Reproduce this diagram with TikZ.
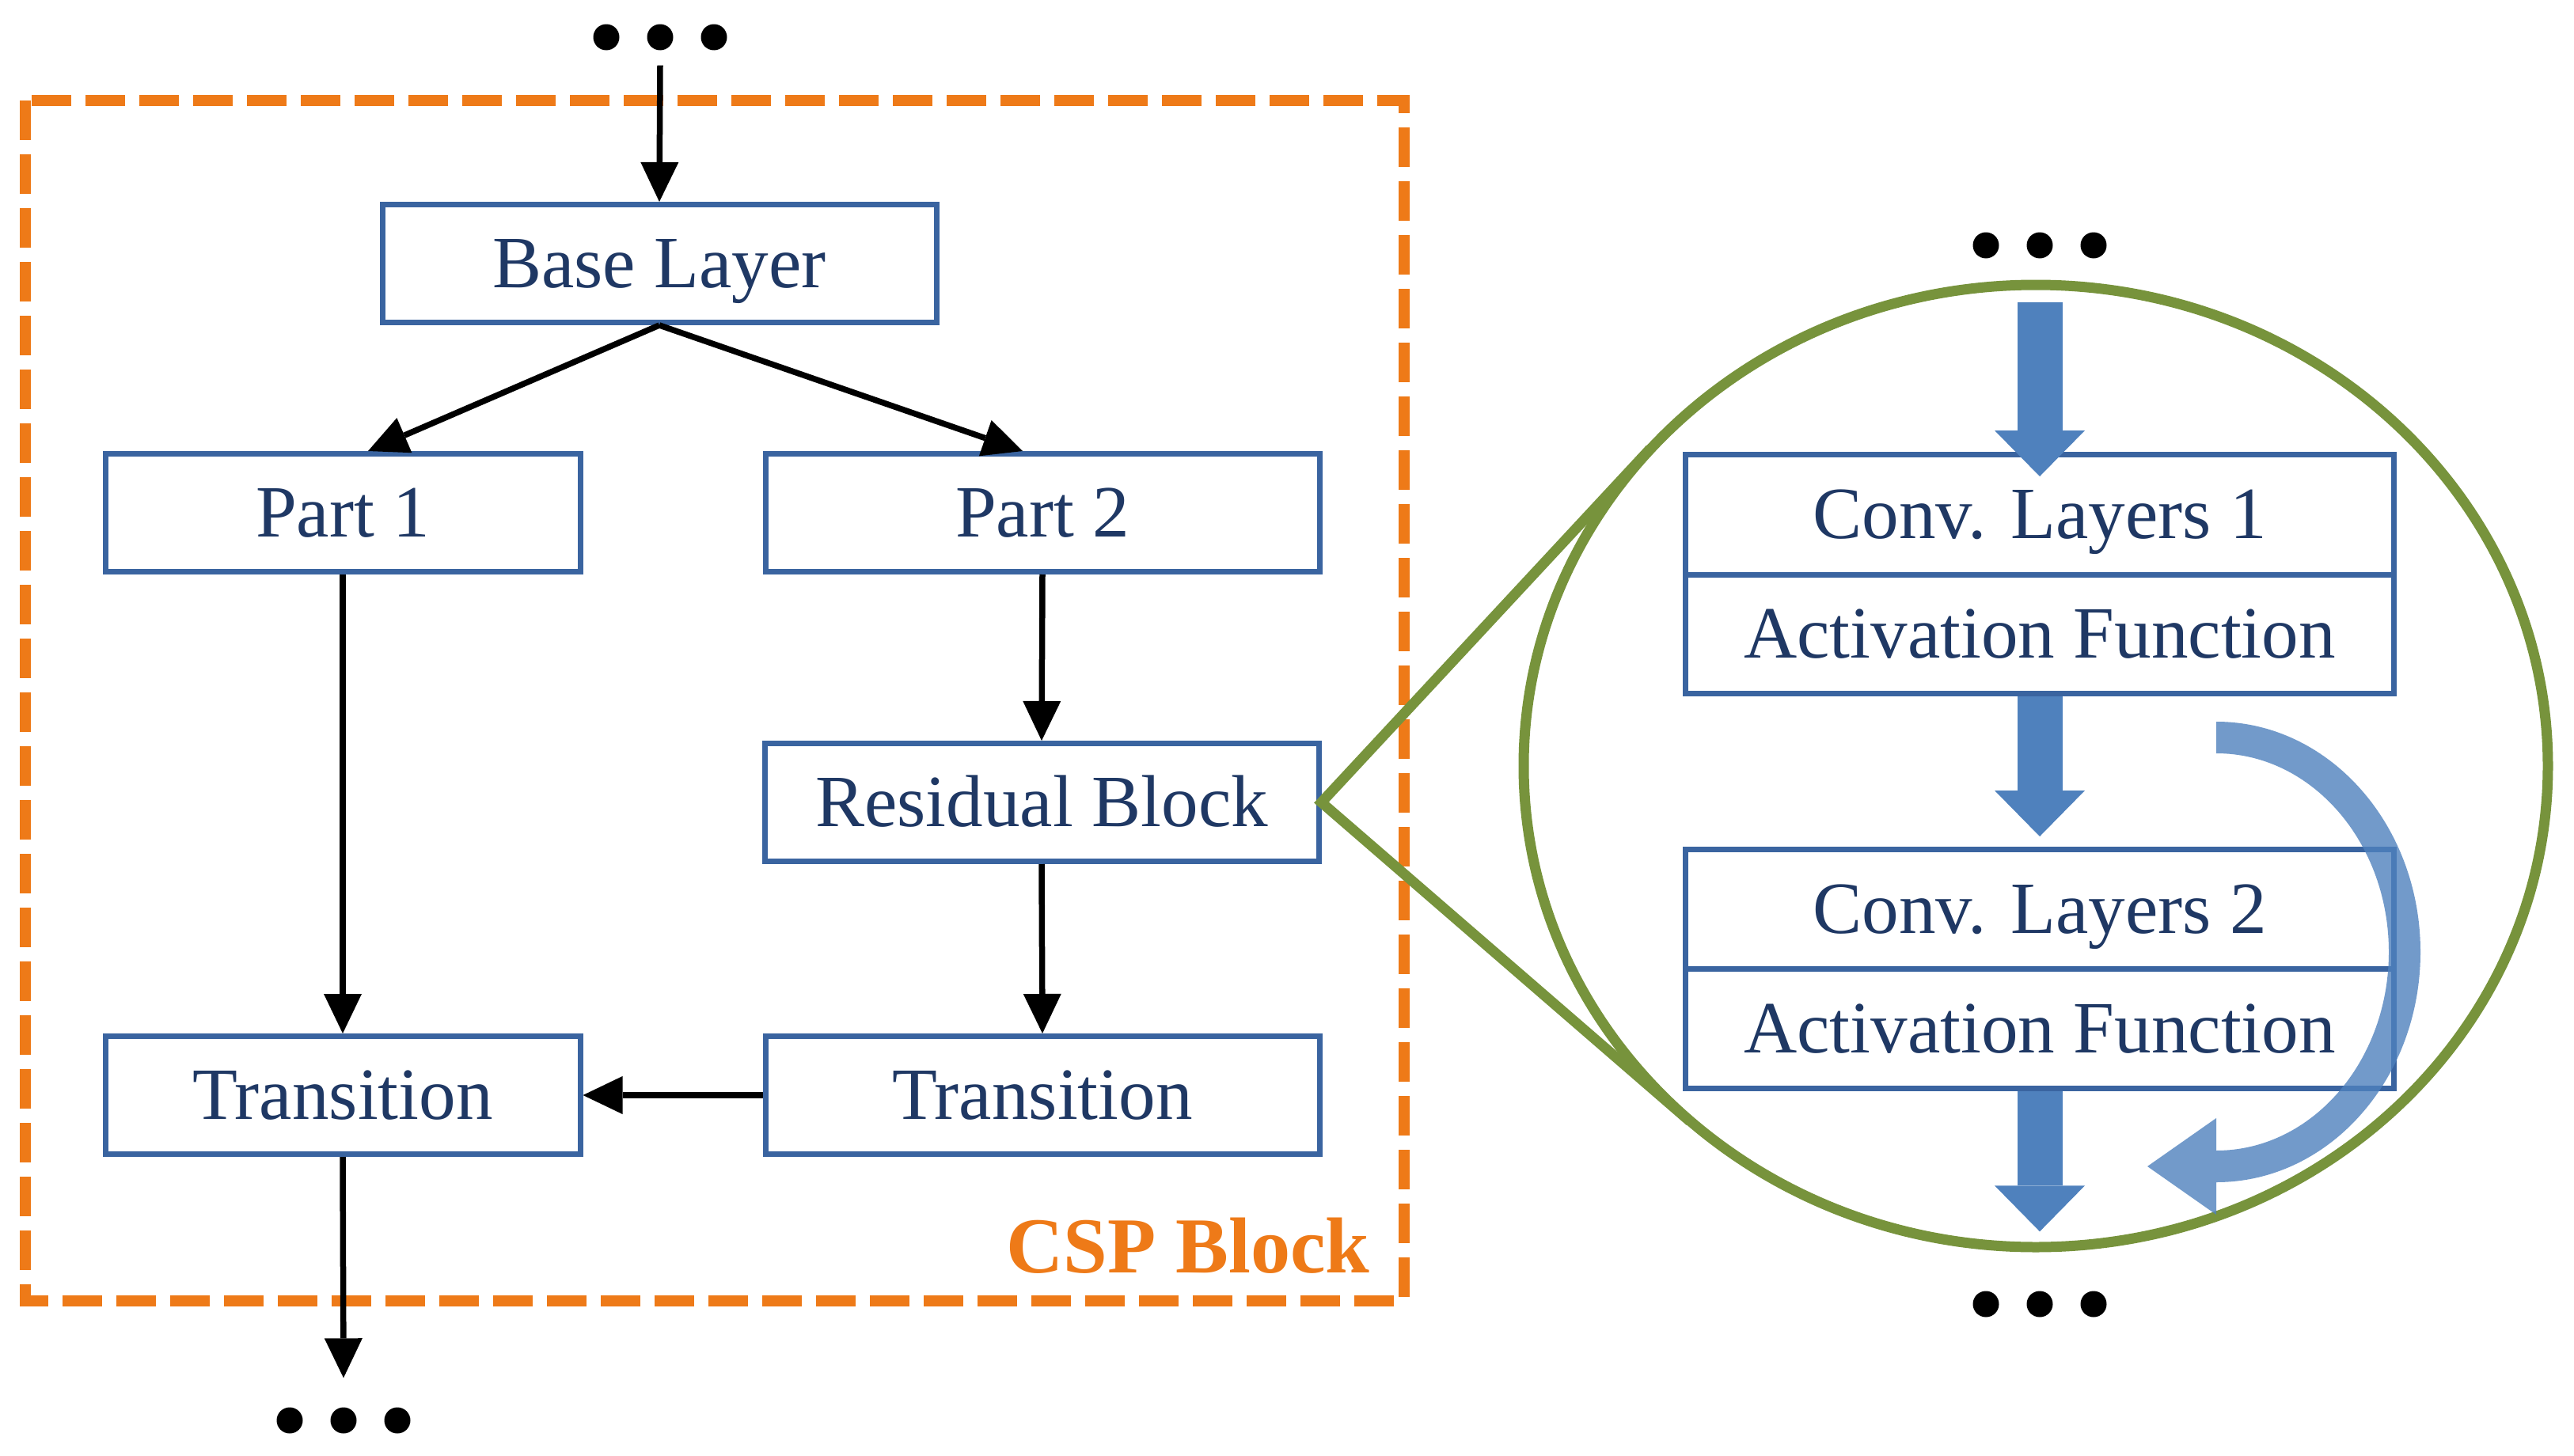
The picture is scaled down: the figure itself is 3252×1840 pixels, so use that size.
\documentclass[tikz,border=0pt]{standalone}
\usepackage{fontspec}
\setmainfont{Liberation Serif}
\usetikzlibrary{arrows.meta}
\definecolor{boxline}{RGB}{58,100,160}
\definecolor{boxtext}{RGB}{31,56,100}
\definecolor{cspor}{RGB}{238,122,24}
\definecolor{zgreen}{RGB}{119,147,60}
\definecolor{blockblue}{RGB}{79,129,189}
\begin{document}
\begin{tikzpicture}[x=0.1mm,y=-0.1mm,
  stage/.style={draw=boxline, line width=0.7mm, fill=white, inner sep=0pt, text=boxtext,
     font=\fontsize{26.5}{32}\selectfont, text height=17.5pt, text depth=0pt,
     minimum height=14.9mm},
  flow/.style={line width=0.75mm, -{Triangle[length=5mm,width=4.8mm,line width=0pt]}},
  blockarrow/.style={color=blockblue, line width=5.7mm, -{Triangle[length=5.8mm,width=11.4mm,line width=0pt]}},
  dotrow/.style={inner sep=0pt, minimum width=18mm, minimum height=4mm,
     path picture={\fill (path picture bounding box.center) circle[radius=1.65mm]
        ++(-6.8mm,0) circle[radius=1.65mm] ++(13.6mm,0) circle[radius=1.65mm];}},
  cspframe/.style={draw=cspor, line width=1.45mm, dash pattern=on 5mm off 1.8mm},
  zoomline/.style={draw=zgreen, line width=1.3mm},
]
\useasboundingbox (0,0) rectangle (3252,1840);

% CSP frame
\draw[cspframe] (32,127) rectangle (1774,1644);
\node[anchor=base east, text=cspor, font=\fontsize{28.5}{34}\selectfont\bfseries, inner sep=0pt] (csp) at (1731,1608) {CSP Block};

% left flow boxes
\node[stage, minimum width=70mm] (base) at (833,333) {Base Layer};
\node[stage, minimum width=60mm] (part1) at (433,648) {Part 1};
\node[stage, minimum width=70mm] (part2) at (1317,648) {Part 2};
\node[stage, minimum width=70mm] (res) at (1316,1014) {Residual Block};
\node[stage, minimum width=60mm] (trL) at (433,1384) {Transition};
\node[stage, minimum width=70mm] (trR) at (1317,1384) {Transition};

\node[dotrow] (dtop) at (834,47) {};
\node[dotrow] (dbot) at (434,1795) {};

\draw[flow] ([yshift=-1.5mm]dtop.south) -- (base.north);
\draw[flow] (base.south) -- ([xshift=3.2mm]part1.north);
\draw[flow] (base.south) -- ([xshift=-2.5mm]part2.north);
\draw[flow] (part1.south) -- (trL.north);
\draw[flow] (part2.south) -- (res.north);
\draw[flow] (res.south) -- (trR.north);
\draw[flow] (trR.west) -- (trL.east);
\draw[flow] (trL.south) -- ([yshift=3.3mm]dbot.north);

% zoom ellipse and tangents
\coordinate (tu) at (2085,567);
\coordinate (tl) at (2135,1417);
\draw[zoomline] (tu) -- (res.east) -- (tl);
\draw[zoomline] (2572,968) ellipse[x radius=647, y radius=608];

% residual block detail
\node[stage, minimum width=89.5mm, minimum height=15.2mm] (conv1) at (2577,650) {Conv. Layers 1};
\node[stage, minimum width=89.5mm, minimum height=15mm] (act1) at (2577,801) {Activation Function};
\node[stage, minimum width=89.5mm, minimum height=15.1mm] (conv2) at (2577,1149) {Conv. Layers 2};
\node[stage, minimum width=89.5mm, minimum height=15.1mm] (act2) at (2577,1300) {Activation Function};

\node[dotrow] (dtopR) at (2577,310) {};
\node[dotrow] (dbotR) at (2577,1648) {};

\draw[blockarrow] ([yshift=-5.1mm]dtopR.south) -- ([yshift=-3.15mm]conv1.north);
\draw[blockarrow] (act1.south) -- ([yshift=1.3mm]conv2.north);
\draw[blockarrow] (act2.south) -- ([yshift=7.1mm]dbotR.north);

% skip connection arrow
\fill[blockblue, fill opacity=0.8] (2800,912)
  arc[start angle=-90, end angle=90, x radius=258, y radius=291]
  -- (2800,1535) -- (2713,1474) -- (2800,1413) -- (2800,1454)
  arc[start angle=90, end angle=-90, x radius=218, y radius=251] -- cycle;
\end{tikzpicture}
\end{document}
